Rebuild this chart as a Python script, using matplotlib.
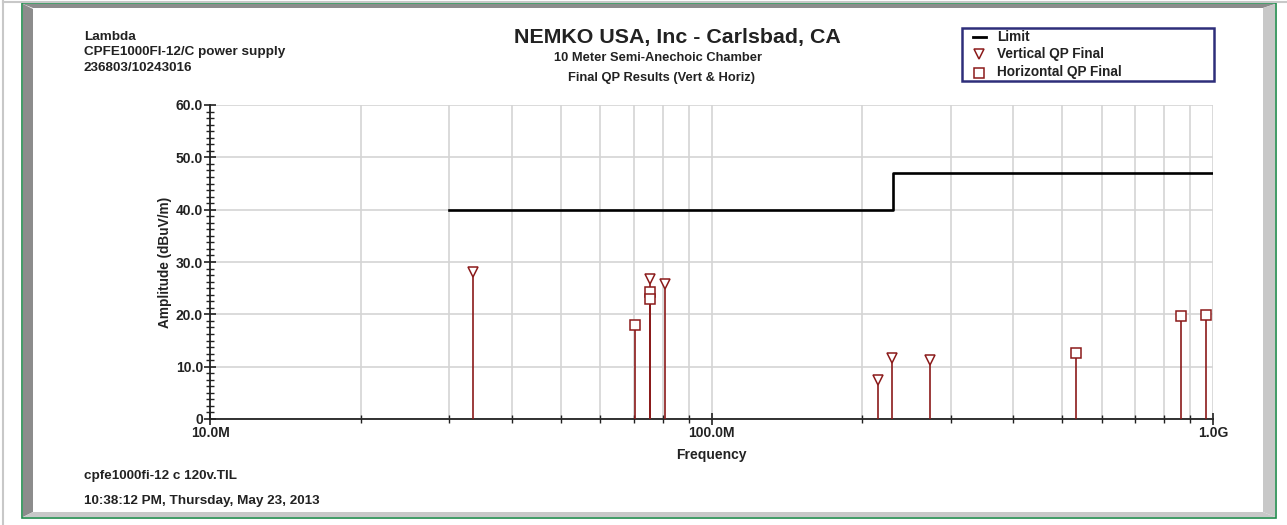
import numpy as np
import matplotlib.pyplot as plt
from matplotlib.patches import Rectangle, Polygon
from matplotlib.lines import Line2D
from matplotlib.ticker import FixedLocator, MultipleLocator, NullFormatter

plt.rcParams['font.family'] = ['Liberation Sans', 'DejaVu Sans']
plt.rcParams['font.weight'] = 'bold'

# limit line (MHz, dBuV/m)
limit_freq = [30.0, 230.0, 1000.0]
limit_level = [40.0, 47.0, 47.0]

# vertical QP final results
vert_freq = [33.4, 75.4, 80.8, 215.0, 229.0, 273.0]
vert_amp = [28.0, 26.8, 25.8, 7.4, 11.6, 11.3]

# horizontal QP final results
horiz_freq = [70.4, 75.4, 75.4, 533.0, 865.0, 968.0]
horiz_amp = [18.0, 24.3, 22.9, 12.6, 19.7, 19.9]

x_tick_vals = [10.0, 100.0, 1000.0]
x_tick_labels = ['10.0M', '100.0M', '1.0G']
y_tick_vals = [0, 10, 20, 30, 40, 50, 60]
y_tick_labels = ['0', '10.0', '20.0', '30.0', '40.0', '50.0', '60.0']

W, H = 1287, 525
fig = plt.figure(figsize=(W / 100, H / 100), dpi=100)


def fx(px):
    return px / W


def fy(py):
    return 1 - py / H


# outer frame decorations
fig.add_artist(Line2D([fx(3), fx(3)], [0, 1], color='#c8c8c8', lw=1.5))
fig.add_artist(Line2D([fx(3), 1], [fy(1.5), fy(1.5)], color='#c8c8c8', lw=1.5))
fig.add_artist(Polygon([(fx(23), fy(4)), (fx(33), fy(9)), (fx(33), fy(512)),
                        (fx(23), fy(517))], closed=True, color='#8c8c8c', lw=0))
fig.add_artist(Polygon([(fx(23), fy(4)), (fx(1275), fy(4)), (fx(1263), fy(8)),
                        (fx(33), fy(8))], closed=True, color='#8c8c8c', lw=0))
fig.add_artist(Polygon([(fx(1275), fy(4)), (fx(1275), fy(517)), (fx(1263), fy(512)),
                        (fx(1263), fy(8))], closed=True, color='#c8c8c8', lw=0))
fig.add_artist(Polygon([(fx(23), fy(517)), (fx(1275), fy(517)), (fx(1263), fy(512)),
                        (fx(33), fy(512))], closed=True, color='#c8c8c8', lw=0))
fig.add_artist(Rectangle((fx(22), fy(518)), fx(1276) - fx(22), fy(3) - fy(518),
                         fill=False, edgecolor='#1f8a4c', lw=1.2))

ax = fig.add_axes([fx(210), fy(419), fx(1213) - fx(210), fy(105) - fy(419)])
ax.set_xscale('log')
ax.set_xlim(10, 1000)
ax.set_ylim(0, 60)

# grid at every 1-9 decade position
minor_x = [m * d for d in (10, 100) for m in range(2, 10)]
ax.xaxis.set_minor_locator(FixedLocator(minor_x))
ax.xaxis.set_minor_formatter(NullFormatter())
ax.set_xticks(x_tick_vals)
ax.set_xticklabels(x_tick_labels)
ax.set_yticks(y_tick_vals)
ax.set_yticklabels(y_tick_labels)
ax.yaxis.set_minor_locator(MultipleLocator(1.25))
ax.grid(True, which='both', axis='x', color='#d4d4d4', lw=1.2)
ax.grid(True, which='major', axis='y', color='#d4d4d4', lw=1.2)
ax.set_axisbelow(True)

for s in ['top', 'right']:
    ax.spines[s].set_visible(False)
for s in ['left', 'bottom']:
    ax.spines[s].set_color('#222222')
    ax.spines[s].set_linewidth(1.3)

ax.tick_params(axis='both', which='major', direction='inout', length=8, width=1.2,
               labelsize=10, colors='#222222', pad=1)
ax.tick_params(axis='y', which='minor', direction='inout', length=6, width=1.0,
               color='#222222')
ax.tick_params(axis='x', which='minor', direction='inout', length=6, width=1.0,
               color='#222222')
for lab in ax.get_xticklabels() + ax.get_yticklabels():
    lab.set_fontweight('bold')

ax.set_xlabel('Frequency', fontsize=10, fontweight='bold', color='#222222', labelpad=6)
ax.set_ylabel('Amplitude (dBuV/m)', fontsize=9.8, fontweight='bold', color='#222222',
              labelpad=3)

red = '#8b1a1a'
ax.step(limit_freq, limit_level, where='post', color='black', lw=1.9, zorder=3)
ax.vlines(vert_freq, 0, vert_amp, color=red, lw=1.2, zorder=3)
ax.vlines(horiz_freq, 0, horiz_amp, color=red, lw=1.2, zorder=3)
ax.plot(vert_freq, vert_amp, 'v', ms=6.5, mfc='white', mec=red, mew=1.1, zorder=4,
        clip_on=False)
ax.plot(horiz_freq, horiz_amp, 's', ms=7.8, mfc='white', mec=red, mew=1.1, zorder=4,
        clip_on=False)

# header texts
txt = dict(fontsize=9.7, fontweight='bold', color='#222222', va='center', ha='left')
fig.text(fx(84), fy(37), 'Lambda', **txt)
fig.text(fx(84), fy(52.5), 'CPFE1000FI-12/C power supply', **txt)
fig.text(fx(84), fy(68), '236803/10243016', **txt)
fig.text(fx(677), fy(37), 'NEMKO USA, Inc - Carlsbad, CA', fontsize=15.4, fontweight='bold',
         color='#222222', ha='center', va='center')
fig.text(fx(658), fy(58), '10 Meter Semi-Anechoic Chamber', fontsize=9.3, fontweight='bold',
         color='#222222', ha='center', va='center')
fig.text(fx(661), fy(78), 'Final QP Results (Vert & Horiz)', fontsize=9.3, fontweight='bold',
         color='#222222', ha='center', va='center')
fig.text(fx(84), fy(476), 'cpfe1000fi-12 c 120v.TIL', **txt)
fig.text(fx(84), fy(501), '10:38:12 PM, Thursday, May 23, 2013', **txt)

# legend box drawn by hand to match the original layout
fig.add_artist(Rectangle((fx(962), fy(81)), fx(1214) - fx(962), fy(28) - fy(81),
                         fill=False, edgecolor='#2e2e7a', lw=1.8))
fig.add_artist(Line2D([fx(973), fx(986)], [fy(37), fy(37)], color='black', lw=2))
fig.add_artist(Line2D([fx(979)], [fy(54)], ls='none', marker='v', ms=6.5, mfc='white',
                      mec=red, mew=1.1))
fig.add_artist(Line2D([fx(979)], [fy(72.5)], ls='none', marker='s', ms=7.8, mfc='white',
                      mec=red, mew=1.1))
leg_labels = ['Limit', 'Vertical QP Final', 'Horizontal QP Final']
leg_rows = [37, 54, 72]
for lab, row in zip(leg_labels, leg_rows):
    fig.text(fx(997), fy(row), lab, fontsize=9.8, fontweight='bold', color='#222222',
             ha='left', va='center')

fig.savefig('out.png', dpi=100)
